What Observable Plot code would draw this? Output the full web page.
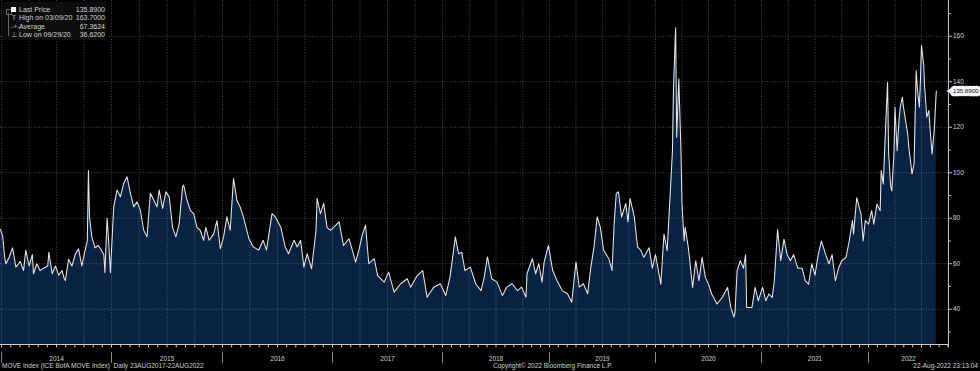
<!DOCTYPE html>
<html><head><meta charset="utf-8">
<script src="https://cdn.jsdelivr.net/npm/d3@7"></script>
<script src="https://cdn.jsdelivr.net/npm/@observablehq/plot@0.6"></script>
<style>
html,body{margin:0;padding:0;background:#000;}
#wrap{position:relative;width:980px;height:371px;background:#000;overflow:hidden;font-family:"Liberation Sans",Arial,sans-serif;color:#d2d2d2;}
#chart svg{display:block;}
.legend{position:absolute;left:2px;top:2px;width:104px;height:38px;background:#0d0d0d;font-size:7px;}
.row{position:absolute;left:0;width:103px;height:8px;line-height:8px;white-space:nowrap;}
.row .lab{position:absolute;left:17px;top:0;}
.row .val{position:absolute;right:0;top:0;}
.tree{position:absolute;left:6px;top:11px;width:1px;height:23px;background:#666;}
.knob{position:absolute;left:4px;top:7px;width:4px;height:4px;border:1px solid #666;}
.sq{position:absolute;left:9px;top:1px;width:5px;height:5px;background:#fff;}
.ic{position:absolute;left:9px;top:0;width:6px;text-align:center;color:#aaa;font-size:7px;line-height:8px;}
.foot{position:absolute;top:361px;height:10px;line-height:10px;font-size:6.5px;color:#cfcfcf;white-space:nowrap;}
</style></head>
<body>
<div id="wrap">
  <div id="chart"></div>
  <div class="legend" id="legend"></div>
  <div class="foot" id="f1" style="left:2px"></div>
  <div class="foot" id="f2" style="left:493px"></div>
  <div class="foot" id="f3" style="right:2px"></div>
</div>
<script>
// ---- data (decimal year, MOVE index level) ----
const times = [
2013.99,2014.01,2014.03,2014.04,2014.07,2014.10,2014.13,2014.17,2014.20,2014.22,2014.25,2014.28,2014.29,2014.32,2014.35,2014.38,2014.42,2014.43,2014.46,2014.49,
2014.52,2014.55,2014.57,2014.58,2014.61,2014.64,2014.67,2014.70,2014.73,2014.76,2014.78,2014.79,2014.80,2014.82,2014.85,2014.88,2014.90,2014.93,2014.94,2014.96,
2014.97,2014.99,2015.02,2015.05,2015.08,2015.11,2015.14,2015.17,2015.20,2015.23,2015.26,2015.29,2015.32,2015.35,2015.38,2015.41,2015.43,2015.46,2015.49,2015.52,
2015.55,2015.58,2015.61,2015.64,2015.65,2015.68,2015.71,2015.74,2015.77,2015.80,2015.83,2015.85,2015.88,2015.92,2015.95,2015.98,2016.01,2016.04,2016.07,2016.10,
2016.13,2016.16,2016.19,2016.24,2016.28,2016.33,2016.37,2016.40,2016.45,2016.48,2016.53,2016.57,2016.60,2016.65,2016.68,2016.71,2016.74,2016.77,2016.81,2016.85,
2016.86,2016.89,2016.92,2016.95,2016.98,2017.01,2017.06,2017.10,2017.15,2017.18,2017.21,2017.24,2017.27,2017.30,2017.33,2017.38,2017.41,2017.47,2017.51,2017.56,
2017.62,2017.68,2017.71,2017.77,2017.82,2017.86,2017.92,2017.98,2018.03,2018.07,2018.12,2018.15,2018.18,2018.21,2018.26,2018.31,2018.36,2018.39,2018.42,2018.46,
2018.51,2018.56,2018.60,2018.65,2018.70,2018.74,2018.78,2018.79,2018.84,2018.87,2018.90,2018.93,2018.95,2018.99,2019.03,2019.07,2019.12,2019.17,2019.21,2019.25,
2019.28,2019.32,2019.36,2019.39,2019.42,2019.45,2019.48,2019.51,2019.56,2019.59,2019.61,2019.63,2019.65,2019.68,2019.72,2019.74,2019.76,2019.80,2019.83,2019.86,
2019.89,2019.94,2019.97,2020.00,2020.05,2020.08,2020.11,2020.14,2020.16,2020.17,2020.19,2020.20,2020.22,2020.24,2020.25,2020.27,2020.28,2020.31,2020.35,2020.38,
2020.41,2020.44,2020.47,2020.50,2020.53,2020.58,2020.63,2020.68,2020.71,2020.74,2020.75,2020.77,2020.80,2020.83,2020.85,2020.86,2020.91,2020.94,2020.97,2021.01,
2021.04,2021.07,2021.10,2021.12,2021.15,2021.18,2021.21,2021.24,2021.27,2021.30,2021.34,2021.38,2021.41,2021.44,2021.47,2021.50,2021.53,2021.56,2021.60,2021.63,
2021.66,2021.69,2021.72,2021.75,2021.79,2021.82,2021.85,2021.86,2021.89,2021.93,2021.95,2021.97,2022.00,2022.03,2022.05,2022.08,2022.11,2022.12,2022.14,2022.16,
2022.18,2022.19,2022.21,2022.22,2022.24,2022.25,2022.27,2022.29,2022.30,2022.32,2022.33,2022.35,2022.37,2022.38,2022.40,2022.41,2022.43,2022.45,2022.46,2022.48,
2022.49,2022.50,2022.52,2022.53,2022.55,2022.57,2022.58,2022.60,2022.62,2022.64
];
const moveIndex = [
75,72,62,60,63,67,58.5,61,57,66,59,64,55.6,60,57,58,59,65,55.6,59,
55,57,53.4,52.6,62,59,64,66.6,59,66,70,101,80.6,72,67,68,66.6,64,56,80,
73,56,85,92.4,89.4,95.3,98.2,91,85,87.2,83.5,74.7,71.8,91,88,85,92.4,84.3,91.6,89.4,
76,71.8,77.6,93.8,94.6,88,83.5,82,76,74.7,70.3,76,70.3,73,79,66.6,71.8,80.6,74.7,97.5,
88,85,80.6,71,67.4,66,70.3,66,82,80.6,76,67.4,64.4,70.3,67.4,70.3,58.5,64.4,57.8,74.7,
88.7,82,86.5,76,74.7,76,78.4,68,71,66,60.7,66,72.5,77,60,62.2,54.8,51.9,56.3,47.5,
51.2,53.4,49.7,54.8,57,45.3,49.7,51.2,46,54,71.8,64.4,65,57,58.5,51.2,48.2,54,63,53.4,
51.9,46,49.7,51.2,48.2,49.7,45.3,55.6,62.2,55.6,60,51.9,60.7,68,57,52.6,48.2,46.8,43.1,60.7,
49.7,51.2,46.8,58.5,67.4,80.6,76,66,62.2,57,77.6,90.9,91.6,80.6,86.5,78.4,88.7,80.6,67.4,66,
62.8,67,58,64,51,73,65.7,92,109.7,137.6,163.7,115.6,141.2,109.7,86,70,76,67,49.6,61.3,
52.5,62.8,54,51,46.7,42.3,45.2,49.6,40.8,36.6,38.6,57,61.3,58,64,40.8,40.8,49.6,43.7,49.6,
43.7,46.7,45.2,52.5,75,61.3,70.8,64,61.3,64,58,58,52.5,51,60,55,64,70,64,60,
64,52.5,58,61.3,62.8,70,79,73,89,81.8,70,79,77.4,83.3,77.4,86.2,83.3,101,95,118.5,
139.8,108.2,93.6,92,108.2,128.8,109.7,124.4,128.8,133.2,128.8,123,117,111.2,103.8,99.4,103.8,144.9,137.6,128.8,
140.5,155.9,147.8,137.6,124.4,127.3,120,108.2,118.5,135.89
];
const yearStarts = [2014,2015,2016,2017,2018,2019,2020,2021,2022];
const yearLabels = ["2014","2015","2016","2017","2018","2019","2020","2021","2022"];
const yTicks = [40,60,80,100,120,140,160];
const yMinorTicks = [30,50,70,90,110,130,150,170];
const legendLabels = ["Last Price","High on 03/09/20","Average","Low on 09/29/20"];
const legendValues = ["135.8900","163.7000","67.3624","36.6200"];
const footerLeft = "MOVE Index (ICE BofA MOVE Index)\u00a0\u00a0Daily 23AUG2017-22AUG2022";
const footerMid = "Copyright\u00a9 2022 Bloomberg Finance L.P.";
const footerRight = "22-Aug-2022 23:13:04";

// ---- layout ----
const xStart = 2013.99, xEnd = 2022.755;
const xKnots = [xStart, 2015, 2016, 2017, 2018, 2019, 2020, 2021, 2022, xEnd];
const xKnotPx = [0, 111, 222, 332, 442, 549, 655, 761, 868, 948];
const yDomain = [24.5, 175.7];

const data = times.map((t, i) => ({t, v: moveIndex[i]}));
const quarterTicks = [];
const monthTicks = [];
for (const y of yearStarts) {
  for (let q = 0; q < 4; q++) if (y + q / 4 <= xEnd) quarterTicks.push(y + q / 4);
  for (let m = 0; m < 12; m++) if (y + m / 12 <= xEnd) monthTicks.push(y + m / 12);
}
const yearMids = yearStarts.map(y => (Math.max(y, xStart) + Math.min(y + 1, xEnd)) / 2);
const last = data[data.length - 1];
const lastTag = [{t: xEnd, v: last.v, label: last.v.toFixed(4)}];

const gridStyle = {stroke: "#a0a0a0", strokeOpacity: 0.45, strokeDasharray: "1,1.6"};
// plain tick shapes for vector marks (no labels)
const tickDown = {draw(context, l) { context.moveTo(0, 0); context.lineTo(0, l); }};
const tickRight = {draw(context, l) { context.moveTo(0, 0); context.lineTo(l, 0); }};

const marks = [
  Plot.areaY(data, {x: "t", y: "v", fill: "#0a2241", clip: true}),
  Plot.gridX(quarterTicks, gridStyle),
  Plot.gridY(yTicks, gridStyle),
  Plot.lineY(data, {x: "t", y: "v", stroke: "#e6e6e6", strokeWidth: 1.05}),
  Plot.ruleY([yDomain[0]], {stroke: "#cfcfcf"}),
  Plot.ruleX([xEnd], {stroke: "#bdbdbd", insetBottom: -3}),
  Plot.vector(monthTicks, {x: d => d, frameAnchor: "bottom", length: 2.5, anchor: "start", shape: tickDown, stroke: "#cfcfcf", strokeWidth: 1}),
  Plot.vector(yearStarts, {x: d => d, frameAnchor: "bottom", length: 10, anchor: "start", dy: 8, shape: tickDown, stroke: "#8a8a8a", strokeWidth: 1}),
  Plot.axisX(yearMids, {anchor: "bottom", tickSize: 0, tickPadding: 11.5, tickFormat: (d, i) => yearLabels[i], fontSize: 6.5, fill: "#d0d0d0"}),
  Plot.vector(yMinorTicks.filter(v => v < yDomain[1]), {y: d => d, frameAnchor: "right", length: 2, anchor: "start", shape: tickRight, stroke: "#bdbdbd", strokeWidth: 1}),
  Plot.axisY(yTicks, {anchor: "right", tickSize: 3, tickPadding: 1.5, fontSize: 6.5, stroke: "#bdbdbd", fill: "#d0d0d0", label: null}),
  // last-price tag: a pointer and a white label box on the right axis
  Plot.dot(lastTag, {x: "t", y: "v", symbol: "triangle", r: 3, rotate: -90, dx: 2.5, fill: "#f4f4f4", stroke: null}),
  Plot.text(lastTag, {x: "t", y: "v", text: "label", textAnchor: "start", dx: 4.5, fontSize: 6.1, fill: "#111", stroke: "#f4f4f4", strokeWidth: 6.5, strokeLinejoin: "round"})
];

const chart = Plot.plot({
  width: 980,
  height: 371,
  marginTop: 0,
  marginLeft: 0,
  marginRight: 32,
  marginBottom: 27,
  style: {background: "#000", color: "#d0d0d0", fontFamily: "Liberation Sans, Arial, sans-serif", fontSize: "6.5px"},
  x: {type: "linear", domain: xKnots, range: xKnotPx, axis: null, label: null},
  y: {domain: yDomain, axis: null, label: null},
  marks
});
document.getElementById("chart").appendChild(chart);

// ---- legend ----
const leg = document.getElementById("legend");
leg.innerHTML = '<div class="knob"></div><div class="tree"></div>';
const icons = ['<div class="sq"></div>', '<div class="ic">T</div>', '<div class="ic">-+-</div>', '<div class="ic">\u22A5</div>'];
const rowTops = [4, 12.3, 20.7, 28.7];
legendLabels.forEach((lab, i) => {
  const r = document.createElement("div");
  r.className = "row";
  r.style.top = rowTops[i] + "px";
  r.innerHTML = icons[i] + '<span class="lab"></span><span class="val"></span>';
  r.querySelector(".lab").textContent = lab;
  r.querySelector(".val").textContent = legendValues[i];
  leg.appendChild(r);
});
document.getElementById("f1").textContent = footerLeft;
document.getElementById("f2").textContent = footerMid;
document.getElementById("f3").textContent = footerRight;
</script>
</body></html>
